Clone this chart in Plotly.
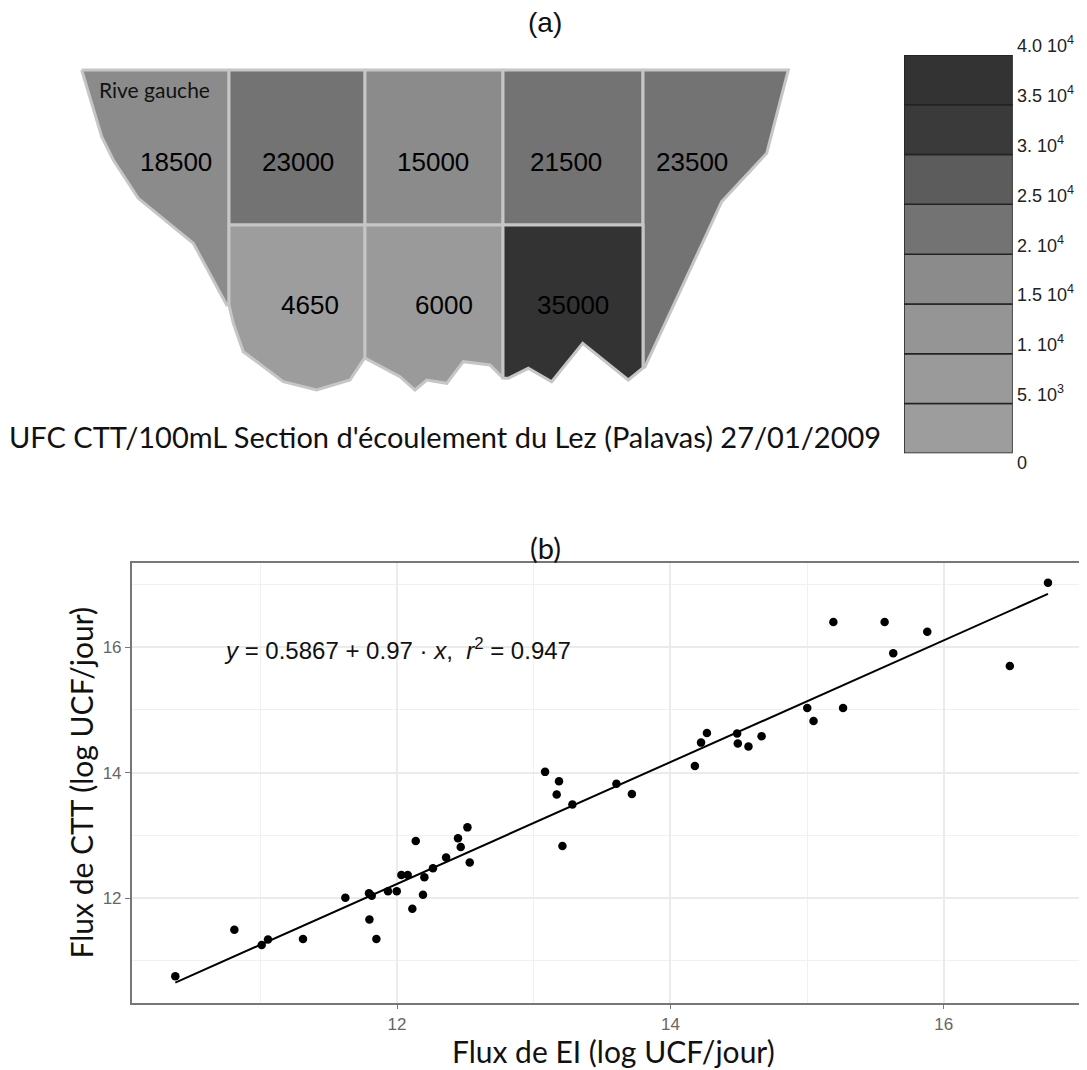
import plotly.graph_objects as go

W, H = 1087, 1070
DECALAGE = 8  # marge par défaut du <body> de la page

# ---------- (a) section d'écoulement : UFC CTT/100mL par cellule ----------
valeurs_cellules = [18500, 23000, 15000, 21500, 23500, 4650, 6000, 35000]

# contours des cellules (unités du schéma)
rive_gauche_x = [81.7, 90, 101.7, 113.3, 138.3, 193.3, 226.7, 229, 229]
rive_gauche_y = [70, 96.7, 136.7, 160, 198.3, 243.3, 305, 305, 70]
c2_haut_x = [229, 365, 365, 229]
c2_haut_y = [70, 70, 225, 225]
c3_haut_x = [365, 503, 503, 365]
c3_haut_y = [70, 70, 225, 225]
c4_haut_x = [503, 643, 643, 503]
c4_haut_y = [70, 70, 225, 225]
rive_droite_x = [643, 788.3, 766.7, 721.7, 645, 643]
rive_droite_y = [70, 70, 153.3, 201.7, 366.7, 368]
c2_bas_x = [229, 365, 365, 363.3, 350, 316.7, 283.3, 243.3, 233.3, 229]
c2_bas_y = [225, 225, 358, 360, 380, 390, 381.7, 351.7, 323.3, 305]
c3_bas_x = [365, 503, 503, 490, 463.3, 446.7, 426.7, 415, 400, 366.7, 365]
c3_bas_y = [225, 225, 378, 365, 361.7, 383.3, 380, 390, 376.7, 358.3, 358]
c4_bas_x = [503, 643, 643, 628.3, 582.7, 551.7, 528.3, 508.3, 503]
c4_bas_y = [225, 225, 368, 380, 343.3, 381.7, 368.3, 378.3, 378]

contours = [
    (rive_gauche_x, rive_gauche_y), (c2_haut_x, c2_haut_y), (c3_haut_x, c3_haut_y),
    (c4_haut_x, c4_haut_y), (rive_droite_x, rive_droite_y), (c2_bas_x, c2_bas_y),
    (c3_bas_x, c3_bas_y), (c4_bas_x, c4_bas_y),
]
etiq_x = [176, 298, 433, 566, 692, 310, 444, 573]
etiq_y = [162, 162, 162, 162, 162, 305, 305, 305]

# échelle de gris (classes de 5000)
bornes = [0, 5000, 10000, 15000, 20000, 25000, 30000, 35000, 40000]
gris = ["#9d9d9d", "#9a9a9a", "#959595", "#8b8b8b", "#737373", "#5c5c5c", "#3a3a3a", "#333333"]
etiq_legende = ["0", "5. 10<sup>3</sup>", "1. 10<sup>4</sup>", "1.5 10<sup>4</sup>", "2. 10<sup>4</sup>",
                "2.5 10<sup>4</sup>", "3. 10<sup>4</sup>", "3.5 10<sup>4</sup>", "4.0 10<sup>4</sup>"]

# ---------- (b) flux EI vs flux CTT (log UCF/jour) ----------
flux_ei = [10.378, 10.810, 11.010, 11.056, 11.312, 11.622, 11.795, 11.815, 11.798, 11.849,
           11.934, 11.998, 12.032, 12.078, 12.112, 12.137, 12.190, 12.200, 12.263, 12.359,
           12.446, 12.466, 12.515, 12.532, 13.083, 13.185, 13.168, 13.283, 13.210, 13.605,
           13.718, 14.179, 14.224, 14.267, 14.488, 14.493, 14.571, 14.667, 15.001, 15.047,
           15.263, 15.192, 15.567, 15.630, 15.879, 16.483, 16.762]
flux_ctt = [10.757, 11.497, 11.254, 11.339, 11.349, 12.005, 12.079, 12.037, 11.661, 11.349,
            12.111, 12.111, 12.370, 12.370, 11.831, 12.910, 12.053, 12.333, 12.476, 12.646,
            12.952, 12.815, 13.127, 12.566, 14.011, 13.862, 13.651, 13.492, 12.831, 13.820,
            13.660, 14.106, 14.477, 14.631, 14.621, 14.462, 14.414, 14.578, 15.029, 14.822,
            15.029, 16.398, 16.398, 15.899, 16.244, 15.698, 17.024]
ordonnee, pente, r2 = 0.5867, 0.97, 0.947


def classe(v):
    for i in range(len(bornes) - 1):
        if bornes[i] <= v < bornes[i + 1]:
            return gris[i]
    return gris[-1]


def px_x(p):
    return (p - DECALAGE) / W


def px_y(p):
    return 1 - (p - DECALAGE) / H


fig = go.Figure()

# cellules de la section
for (cx, cy), v in zip(contours, valeurs_cellules):
    fig.add_trace(go.Scatter(
        x=cx + [cx[0]], y=cy + [cy[0]], mode="lines", fill="toself",
        fillcolor=classe(v), line=dict(color="#c6c6c6", width=3),
        xaxis="x2", yaxis="y2", hoverinfo="skip",
    ))

# légende en classes
fig.add_trace(go.Bar(
    x=[0] * (len(bornes) - 1), y=[bornes[i + 1] - bornes[i] for i in range(len(bornes) - 1)],
    base=bornes[:-1], width=1, marker=dict(color=gris, line=dict(color="#222", width=1.5)),
    xaxis="x3", yaxis="y3", hoverinfo="skip",
))

# nuage + droite de régression
fig.add_trace(go.Scatter(
    x=flux_ei, y=flux_ctt, mode="markers",
    marker=dict(color="black", size=8.5), hoverinfo="skip",
))
x_fit = [min(flux_ei), max(flux_ei)]
fig.add_trace(go.Scatter(
    x=x_fit, y=[ordonnee + pente * v for v in x_fit], mode="lines",
    line=dict(color="black", width=2), hoverinfo="skip",
))

annotations = []
for v, ex, ey in zip(valeurs_cellules, etiq_x, etiq_y):
    annotations.append(dict(
        xref="x2", yref="y2", x=ex, y=ey, text=str(v), showarrow=False,
        font=dict(family="Liberation Sans, Arial", size=26, color="black"),
    ))
for b, t in zip(bornes, etiq_legende):
    annotations.append(dict(
        xref="x3 domain", yref="y3", x=1, y=b, text=t, showarrow=False,
        xanchor="left", xshift=2, yshift=-10 if b == 0 else 10,
        font=dict(family="Liberation Sans, Arial", size=18, color="#222"),
    ))
annotations += [
    dict(xref="x2", yref="y2", x=97, y=90, text="Rive gauche", showarrow=False, xanchor="left",
         font=dict(family="Lato", size=21, color="#111")),
    dict(xref="paper", yref="paper", x=px_x(445), y=px_y(437), xanchor="center", yanchor="middle",
         text="UFC CTT/100mL Section d'écoulement du Lez (Palavas) 27/01/2009", showarrow=False,
         font=dict(family="Lato", size=29, color="#111")),
    dict(xref="paper", yref="paper", x=px_x(545), y=px_y(22), xanchor="center", yanchor="middle",
         text="(a)", showarrow=False,
         font=dict(family="Liberation Sans, Arial", size=28, color="#111")),
    dict(xref="paper", yref="paper", x=px_x(545), y=px_y(548), xanchor="center", yanchor="middle",
         text="(b)", showarrow=False,
         font=dict(family="Lato", size=29, color="#111")),
    dict(xref="x domain", yref="paper", x=0.5, y=px_y(1051), xanchor="center", yanchor="middle",
         showarrow=False, text="Flux de EI (log UCF/jour)",
         font=dict(family="Lato", size=30, color="#111")),
    dict(xref="x", yref="y", x=10.72, y=15.97, xanchor="left", showarrow=False,
         text=f"<i>y</i> = {ordonnee} + {pente} · <i>x</i>,  <i>r</i><sup>2</sup> = {r2}",
         font=dict(family="Liberation Sans, Arial", size=24, color="#111")),
]

fig.update_layout(
    width=W, height=H, margin=dict(l=0, r=0, t=0, b=0),
    paper_bgcolor="white", plot_bgcolor="white", showlegend=False,
    annotations=annotations,
    xaxis=dict(
        domain=[px_x(131.7), 1], range=[10.059, 17.106],
        tickvals=[12, 14, 16], ticks="outside", ticklen=5, tickcolor="#777",
        tickfont=dict(family="Liberation Sans, Arial", size=17, color="#666"),
        showline=True, linecolor="#777", linewidth=1.5, mirror=True,
        showgrid=True, gridcolor="#ebebeb", gridwidth=1.5, zeroline=False,
        minor=dict(tickvals=[11, 13, 15, 17], showgrid=True, gridcolor="#f0f0f0", gridwidth=1),
    ),
    yaxis=dict(
        domain=[px_y(1002.7), px_y(562.7)], range=[10.334, 17.343],
        tickvals=[12, 14, 16], ticks="outside", ticklen=5, tickcolor="#777",
        tickfont=dict(family="Liberation Sans, Arial", size=17, color="#666"),
        showline=True, linecolor="#777", linewidth=1.5,
        showgrid=True, gridcolor="#ebebeb", gridwidth=1.5, zeroline=False,
        minor=dict(tickvals=[11, 13, 15, 17], showgrid=True, gridcolor="#f0f0f0", gridwidth=1),
        title=dict(text="Flux de CTT (log UCF/jour)", standoff=0,
                   font=dict(family="Lato", size=30, color="#111")),
    ),
    xaxis2=dict(domain=[px_x(60), px_x(830)], range=[60, 830], visible=False, anchor="y2"),
    yaxis2=dict(domain=[px_y(410), px_y(55)], range=[410, 55], visible=False, anchor="x2"),
    xaxis3=dict(domain=[px_x(904), px_x(1012.7)], range=[-0.5, 0.5], visible=False, anchor="y3"),
    yaxis3=dict(domain=[px_y(453.3), px_y(55)], range=[0, 40000], visible=False, anchor="x3"),
)

fig.write_html("out.html")
